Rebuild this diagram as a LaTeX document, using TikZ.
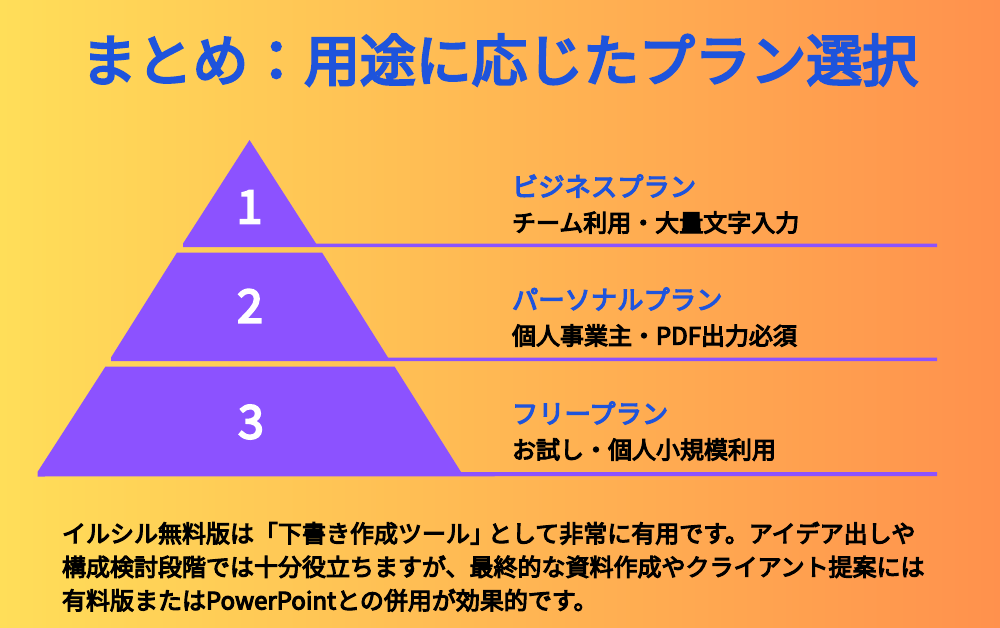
\documentclass[tikz,border=0pt]{standalone}
\usepackage{fontspec}
\setmainfont{Noto Sans CJK JP}
\newfontfamily\medjp[FakeBold=4.5]{Noto Sans CJK JP}
\usetikzlibrary{positioning}
\definecolor{bgleft}{HTML}{FFDE59}
\definecolor{bgright}{HTML}{FF914D}
\definecolor{tierpurple}{HTML}{8C52FF}
\definecolor{headblue}{HTML}{1E54DC}

\begin{document}
\begin{tikzpicture}[x=1pt,y=-1pt,node distance=14pt]
  \tikzset{every node/.style={inner sep=0pt,outer sep=0pt}}
  \tikzset{tier/.style={fill=tierpurple}}
  \tikzset{num/.style={text=white,font=\fontsize{46}{46}\medjp}}
  \tikzset{head/.style={text=headblue,anchor=west,font=\fontsize{26.3}{26}\medjp}}
  \tikzset{sub/.style={text=black,anchor=north west,font=\fontsize{24}{24}\medjp}}

  \useasboundingbox (0,0) rectangle (1000,628);
  \fill[left color=bgleft,right color=bgright] (0,0) rectangle (1000,628);

  \node (title) [anchor=center,text=headblue,font=\fontsize{55.8}{56}\medjp] at (499.5,60) {まとめ：用途に応じたプラン選択};

  % tiers, each with its rule running off to the right
  \path[tier] (249.5,140) -- (316,243.5) -- (937,243.5) -- (937,247) -- (183,247) -- (183,243.5) -- cycle;
  \path[tier] (177,252.5) -- (322,252.5) -- (388,357.5) -- (937,357.5) -- (937,361) -- (111,361) -- (111,357.5) -- cycle;
  \path[tier] (105.5,366.5) -- (394.5,366.5) -- (461,472) -- (937,472) -- (937,476) -- (37.5,476.5) -- (37.5,472) -- cycle;

  \node[num] (one) at (249.5,207) {1};
  \node[num] (two) at (250,306) {2};
  \node[num] (three) at (251,422) {3};

  \node[head] (biz) at (512,186) {ビジネスプラン};
  \node[sub] (bizsub) [below=of biz.south west,anchor=north west] {チーム利用・大量文字入力};
  \node[head] (per) at (512,299) {パーソナルプラン};
  \node[sub] (persub) [below=of per.south west,anchor=north west] {個人事業主・PDF出力必須};
  \node[head] (free) at (512,413) {フリープラン};
  \node[sub] (freesub) [below=of free.south west,anchor=north west] {お試し・個人小規模利用};

  \node (note) [anchor=north west,align=left,text=black,font=\fontsize{24}{33.5}\medjp] at (62,522) {イルシル無料版は「下書き作成ツール」\hspace{-6pt}として非常に有用です。アイデア出しや\\構成検討段階では十分役立ちますが、最終的な資料作成やクライアント提案には\\有料版またはPowerPointとの併用が効果的です。};
\end{tikzpicture}
\end{document}
